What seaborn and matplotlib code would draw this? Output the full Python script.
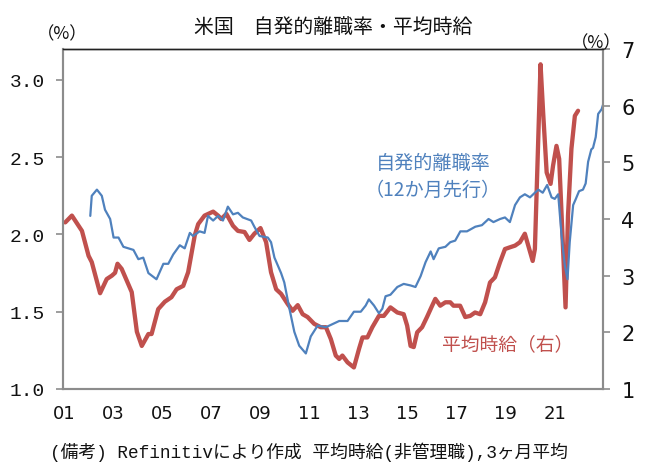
import matplotlib
matplotlib.use("Agg")
import matplotlib.pyplot as plt
import seaborn as sns
import pandas as pd

# ---------------- data ----------------
title = "米国　自発的離職率・平均時給"
note = "(備考) Refinitivにより作成 平均時給(非管理職),3ヶ月平均"
quit_label = "自発的離職率\n（12か月先行）"
wage_label = "平均時給（右）"
unit_label = "（%）"

x_ticks = [2001, 2003, 2005, 2007, 2009, 2011, 2013, 2015, 2017, 2019, 2021]
x_tick_labels = ["01", "03", "05", "07", "09", "11", "13", "15", "17", "19", "21"]
left_ticks = [1.0, 1.5, 2.0, 2.5, 3.0]
right_ticks = [1, 2, 3, 4, 5, 6, 7]

# average hourly earnings, y/y %, 3-month average (right axis)
wage_t = [2001.04, 2001.31, 2001.72, 2001.99, 2002.12, 2002.46, 2002.73, 2002.94,
          2003.07, 2003.17, 2003.34, 2003.55, 2003.75, 2003.96, 2004.16, 2004.43,
          2004.56, 2004.83, 2005.10, 2005.37, 2005.58, 2005.85, 2006.05, 2006.32,
          2006.46, 2006.72, 2007.07, 2007.27, 2007.40, 2007.61, 2007.88, 2008.08,
          2008.35, 2008.55, 2008.75, 2009.00, 2009.23, 2009.43, 2009.64, 2009.84,
          2010.11, 2010.31, 2010.52, 2010.72, 2010.92, 2011.19, 2011.46, 2011.67,
          2011.87, 2012.07, 2012.21, 2012.34, 2012.55, 2012.81, 2013.02, 2013.16,
          2013.36, 2013.56, 2013.83, 2014.03, 2014.30, 2014.58, 2014.84, 2014.98,
          2015.12, 2015.25, 2015.39, 2015.59, 2015.79, 2016.00, 2016.13, 2016.33,
          2016.54, 2016.74, 2016.87, 2017.14, 2017.35, 2017.55, 2017.75, 2017.96,
          2018.16, 2018.36, 2018.56, 2018.77, 2018.97, 2019.17, 2019.38, 2019.58,
          2019.78, 2019.92, 2020.10, 2020.19, 2020.42, 2020.53, 2020.67, 2020.83,
          2020.93, 2021.07, 2021.18, 2021.28, 2021.44, 2021.54, 2021.68, 2021.82,
          2021.95]
wage_v = [3.94, 4.06, 3.79, 3.35, 3.24, 2.69, 2.94, 3.00,
          3.05, 3.21, 3.12, 2.91, 2.71, 2.01, 1.76, 1.97,
          1.97, 2.41, 2.54, 2.62, 2.76, 2.82, 3.06, 3.71,
          3.91, 4.06, 4.13, 4.06, 4.00, 4.09, 3.88, 3.79,
          3.77, 3.63, 3.74, 3.84, 3.59, 3.06, 2.76, 2.68,
          2.50, 2.38, 2.48, 2.32, 2.27, 2.15, 2.09, 2.09,
          1.88, 1.59, 1.53, 1.59, 1.47, 1.38, 1.71, 1.91,
          1.91, 2.09, 2.29, 2.29, 2.44, 2.35, 2.32, 2.12,
          1.76, 1.74, 2.00, 2.09, 2.27, 2.47, 2.59, 2.47,
          2.53, 2.53, 2.47, 2.47, 2.27, 2.29, 2.35, 2.32,
          2.53, 2.88, 2.97, 3.24, 3.47, 3.50, 3.53, 3.59,
          3.74, 3.53, 3.26, 3.47, 6.73, 5.85, 4.82, 4.62,
          4.94, 5.29, 5.06, 4.06, 2.44, 4.06, 5.24, 5.82,
          5.91]

# quit rate, %, 12-month lead (left axis)
quit_t = [2002.06, 2002.12, 2002.33, 2002.53, 2002.66, 2002.87, 2003.01, 2003.21,
          2003.41, 2003.82, 2004.02, 2004.22, 2004.43, 2004.76, 2005.04, 2005.24,
          2005.44, 2005.71, 2005.91, 2006.12, 2006.25, 2006.52, 2006.72, 2006.86,
          2007.07, 2007.27, 2007.47, 2007.67, 2007.88, 2008.08, 2008.28, 2008.62,
          2008.75, 2008.96, 2009.30, 2009.43, 2009.57, 2009.84, 2009.97, 2010.18,
          2010.38, 2010.58, 2010.85, 2011.05, 2011.33, 2011.67, 2011.94, 2012.21,
          2012.55, 2012.81, 2013.09, 2013.29, 2013.42, 2013.63, 2013.83, 2013.97,
          2014.10, 2014.30, 2014.58, 2014.84, 2015.12, 2015.32, 2015.53, 2015.73,
          2015.94, 2016.06, 2016.27, 2016.54, 2016.74, 2016.94, 2017.15, 2017.42,
          2017.76, 2018.03, 2018.30, 2018.50, 2018.77, 2018.97, 2019.17, 2019.38,
          2019.58, 2019.78, 2019.99, 2020.19, 2020.33, 2020.51, 2020.69, 2020.87,
          2021.00, 2021.14, 2021.28, 2021.41, 2021.52, 2021.61, 2021.75, 2021.86,
          2021.99, 2022.15, 2022.26, 2022.36, 2022.49, 2022.56, 2022.67, 2022.77,
          2022.91, 2022.97]
quit_v = [2.12, 2.25, 2.29, 2.25, 2.16, 2.10, 1.98, 1.98,
          1.92, 1.90, 1.84, 1.85, 1.75, 1.71, 1.81, 1.81,
          1.87, 1.93, 1.91, 2.01, 1.99, 2.02, 2.01, 2.12,
          2.09, 2.12, 2.09, 2.18, 2.13, 2.14, 2.11, 2.09,
          2.05, 1.99, 1.98, 1.95, 1.85, 1.75, 1.69, 1.52,
          1.37, 1.28, 1.23, 1.34, 1.41, 1.40, 1.42, 1.44,
          1.44, 1.50, 1.50, 1.54, 1.58, 1.54, 1.49, 1.52,
          1.60, 1.61, 1.66, 1.68, 1.67, 1.66, 1.73, 1.82,
          1.89, 1.84, 1.91, 1.92, 1.95, 1.96, 2.02, 2.02,
          2.05, 2.06, 2.10, 2.08, 2.10, 2.11, 2.08, 2.19,
          2.24, 2.26, 2.24, 2.27, 2.29, 2.27, 2.32, 2.24,
          2.23, 2.26, 1.99, 1.80, 1.71, 1.95, 2.19, 2.23,
          2.28, 2.29, 2.33, 2.47, 2.55, 2.56, 2.63, 2.78,
          2.81, 2.84]

# ---------------- styling ----------------
BLUE = "#4F81BD"
RED = "#C0504D"
GREY = "#8C8C8C"

sns.set_style("white")
plt.rcParams["font.family"] = ["Noto Sans CJK JP", "DejaVu Sans"]

wage_df = pd.DataFrame({"t": wage_t, "v": wage_v})
quit_df = pd.DataFrame({"t": quit_t, "v": quit_v})

fig = plt.figure(figsize=(6.54, 4.77), dpi=100)
axR = fig.add_axes([0.0968, 0.1824, 0.8257, 0.7128])
axL = axR.twinx()

sns.lineplot(data=wage_df, x="t", y="v", ax=axR, color=RED, linewidth=3.1,
             solid_joinstyle="round", solid_capstyle="round")
sns.lineplot(data=quit_df, x="t", y="v", ax=axL, color=BLUE, linewidth=1.6,
             solid_joinstyle="round")

for ax in (axR, axL):
    ax.set_xlim(2000.96, 2022.98)
    ax.set_xlabel("")
    ax.set_ylabel("")
    for s in ("left", "right", "bottom"):
        ax.spines[s].set_color(GREY)
        ax.spines[s].set_linewidth(1.5)
    ax.spines["top"].set_color("#222222")
    ax.spines["top"].set_linewidth(1.0)

axR.set_ylim(1, 7)
axL.set_ylim(1.0, 3.2)

axR.yaxis.tick_right()
axL.yaxis.tick_left()

axR.set_yticks(right_ticks, labels=[str(v) for v in right_ticks],
               fontfamily=["Liberation Sans Narrow", "DejaVu Sans"], fontsize=15)
axL.set_yticks(left_ticks, labels=[f"{v:.1f}" for v in left_ticks],
               fontfamily=["Liberation Mono", "DejaVu Sans Mono"], fontsize=14)
axR.set_xticks(x_ticks, labels=x_tick_labels,
               fontfamily=["Liberation Sans Narrow", "DejaVu Sans"], fontsize=13)

axR.tick_params(axis="y", which="both", direction="out", length=5, width=1.2,
                color=GREY, pad=8, right=True, left=False, labelcolor="#111111")
axL.tick_params(axis="y", which="both", direction="out", length=5, width=1.2,
                color=GREY, pad=8, left=True, right=False, labelcolor="#111111")
axR.tick_params(axis="x", length=0, pad=11, labelcolor="#111111")
axL.tick_params(axis="x", length=0, labelbottom=False)

# texts
fig.text(333 / 654, 1 - 28 / 477, title, ha="center", va="center", fontsize=14.3,
         color="#111111")
fig.text(62 / 654, 1 - 34 / 477, unit_label, ha="center", va="center", fontsize=12.5,
         color="#111111")
fig.text(596 / 654, 1 - 43 / 477, unit_label, ha="center", va="center", fontsize=12.5,
         color="#111111")
axL.text((433 - 63.3) / 540.0, (390 - 177) / 340.0, quit_label,
         transform=axL.transAxes, ha="center", va="center", fontsize=13.8,
         color=BLUE, linespacing=1.35)
axL.text((508 - 63.3) / 540.0, (390 - 345) / 340.0, wage_label,
         transform=axL.transAxes, ha="center", va="center", fontsize=13.5,
         color=RED)
fig.text(309 / 654, 1 - 452 / 477, note, ha="center", va="center", fontsize=12.8,
         family=["Liberation Mono", "Noto Sans CJK JP"], color="#111111")

fig.savefig("out.png", dpi=100)
